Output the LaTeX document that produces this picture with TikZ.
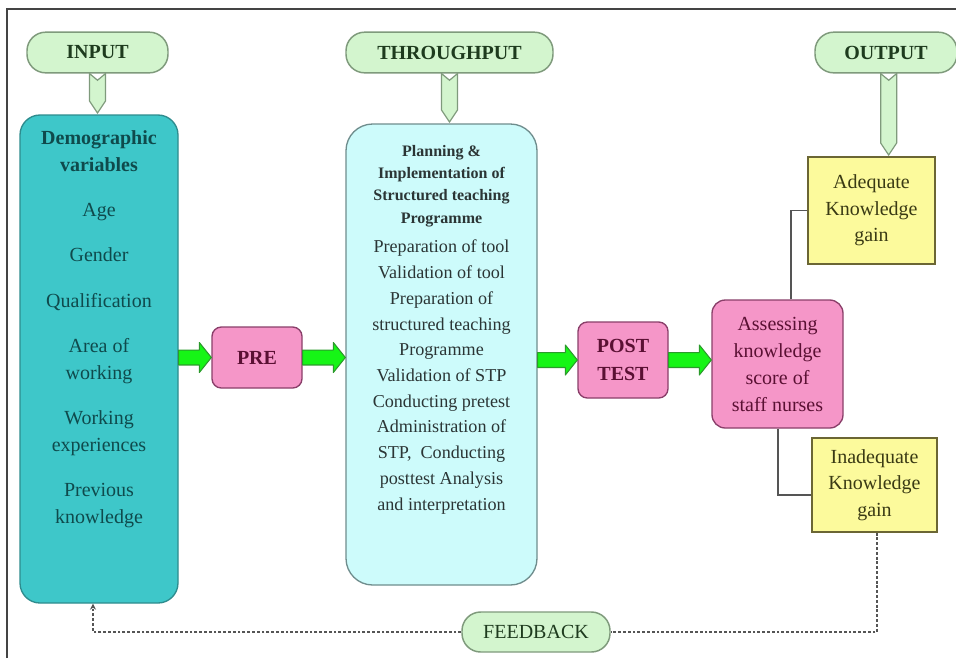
\documentclass[tikz,border=0pt]{standalone}
\usepackage{fontspec}
\setmainfont{Liberation Serif}
\usetikzlibrary{calc,arrows.meta}
\definecolor{pillfill}{HTML}{D3F5CE}
\definecolor{pilldraw}{HTML}{7F9A7C}
\definecolor{pilltext}{HTML}{1E3B1E}
\definecolor{demofill}{HTML}{3EC7C9}
\definecolor{demodraw}{HTML}{2E8C8E}
\definecolor{demotext}{HTML}{0F4A4C}
\definecolor{planfill}{HTML}{CDFBFB}
\definecolor{plandraw}{HTML}{6F8D8D}
\definecolor{plantext}{HTML}{2B3535}
\definecolor{pinkfill}{HTML}{F596C8}
\definecolor{pinkdraw}{HTML}{8A3F6A}
\definecolor{pinktext}{HTML}{5A1033}
\definecolor{yelfill}{HTML}{FCFA9C}
\definecolor{yeldraw}{HTML}{6B6634}
\definecolor{yeltext}{HTML}{3A3A14}
\definecolor{arrowfill}{HTML}{16F516}
\definecolor{arrowdraw}{HTML}{2C9A2C}
\definecolor{framecol}{HTML}{444444}
\definecolor{linecol}{HTML}{555555}
\newcommand\blockarrow[2]{%
  \path[barrow] let \p1=(#1), \p2=(#2) in
    (\x1,\y2+5.6pt) -- (\x2-9pt,\y2+5.6pt) -- (\x2-9pt,\y2+11.25pt) -- (\x2,\y2)
    -- (\x2-9pt,\y2-11.25pt) -- (\x2-9pt,\y2-5.6pt) -- (\x1,\y2-5.6pt) -- cycle;}
\newcommand\pillarrow[2]{%
  \path[darrow] let \p1=(#1), \p2=(#2) in
    (\x1-6pt,\y1) -- (\x1,\y1-5pt) -- (\x1+6pt,\y1) -- (\x1+6pt,\y2+10pt)
    -- (\x1,\y2+1pt) -- (\x1-6pt,\y2+10pt) -- cycle;}
\begin{document}
\begin{tikzpicture}[x=0.75pt,y=-0.75pt,
  pill/.style={draw=pilldraw,fill=pillfill,line width=1.1pt,rounded corners=14pt,
    minimum height=30.5pt,inner sep=0pt,text=pilltext,font=\fontsize{15}{18}\selectfont\bfseries},
  demobox/.style={draw=demodraw,fill=demofill,line width=1pt,rounded corners=15pt,inner sep=0pt},
  planbox/.style={draw=plandraw,fill=planfill,line width=1pt,rounded corners=20pt,inner sep=0pt},
  pinkbox/.style={draw=pinkdraw,fill=pinkfill,line width=1pt,rounded corners=7pt,inner sep=0pt,
    align=center,text=pinktext},
  yelbox/.style={draw=yeldraw,fill=yelfill,line width=1pt,inner sep=0pt,align=center,text=yeltext,
    font=\fontsize{15}{20}\selectfont},
  demotxt/.style={align=center,inner sep=0pt,text=demotext,font=\fontsize{15}{20}\selectfont},
  planhead/.style={align=center,inner sep=0pt,text=plantext,font=\fontsize{12}{16.8}\selectfont\bfseries},
  planlist/.style={align=center,inner sep=0pt,text=plantext,font=\fontsize{13.6}{19.3}\selectfont},
  barrow/.style={fill=arrowfill,draw=arrowdraw,line width=0.8pt,line join=round},
  darrow/.style={fill=pillfill,draw=pilldraw,line width=0.9pt,line join=miter},
  link/.style={draw=linecol,line width=1pt},
  fbline/.style={draw=linecol,line width=1.1pt,dash pattern=on 2.2pt off 1.4pt}
]
\useasboundingbox (0,0) rectangle (956,658);
\fill[white] (0,0) rectangle (956,658);
\draw[framecol,line width=1pt] (7,658) -- (7,9) -- (956,9);

% pills
\node[pill,minimum width=105.75pt] (input) at (97.5,52.5) {INPUT};
\node[pill,minimum width=155.25pt] (through) at (449.5,52.5) {THROUGHPUT};
\node[pill,minimum width=106.5pt] (output) at (886,52.5) {OUTPUT};
\node[pill,minimum width=111pt,minimum height=30pt,font=\fontsize{15}{18}\selectfont] (fb) at (536,632) {FEEDBACK};

% main boxes
\node[demobox,minimum width=118.5pt,minimum height=366pt] (demo) at (99,359) {};
\node[demotxt] (demotext) at (99,329)
  {{\bfseries Demographic}\\{\bfseries variables}\\[14pt]Age\\[14pt]Gender\\[14pt]Qualification\\[14pt]Area of\\working\\[14pt]Working\\experiences\\[14pt]Previous\\knowledge};

\node[planbox,minimum width=143.25pt,minimum height=345.75pt] (plan) at (441.5,354.5) {};
\node[planhead] (planh) at (441.5,186) {Planning \&\\Implementation of\\Structured teaching\\Programme};
\node[planlist] (planl) at (441.5,377)
  {Preparation of tool\\Validation of tool\\Preparation of\\structured teaching\\Programme\\Validation of STP\\Conducting pretest\\Administration of\\STP,\ \ Conducting\\posttest Analysis\\and interpretation};

\node[pinkbox,minimum width=67.5pt,minimum height=45.75pt,font=\fontsize{15}{21}\selectfont\bfseries] (pre) at (257,357.5) {PRE};
\node[pinkbox,minimum width=67.5pt,minimum height=57pt,font=\fontsize{15}{21}\selectfont\bfseries] (post) at (623,360) {POST\\TEST};
\node[pinkbox,rounded corners=10pt,minimum width=98.25pt,minimum height=96pt,font=\fontsize{15}{20.25}\selectfont] (assess) at (777.5,364) {Assessing\\knowledge\\score of\\staff nurses};

\node[yelbox,minimum width=95.25pt,minimum height=80.25pt] (adeq) at (871.5,210.5) {Adequate\\Knowledge\\gain};
\node[yelbox,minimum width=93.75pt,minimum height=70.5pt] (inad) at (874.5,485) {Inadequate\\Knowledge\\gain};

% pill arrows
\pillarrow{input.south}{demo.north}
\pillarrow{through.south}{plan.north}
\pillarrow{[xshift=2pt]output.south}{adeq.north}

% green block arrows
\blockarrow{demo.east |- pre.west}{pre.west}
\blockarrow{pre.east}{plan.west |- pre.east}
\blockarrow{plan.east |- post.west}{post.west}
\blockarrow{post.east}{assess.west |- post.east}

% connectors
\coordinate (atop) at ([xshift=10pt]assess.north);
\coordinate (abot) at ([xshift=0.4pt]assess.south);
\draw[link] (atop) |- (adeq.west);
\draw[link] (abot) |- ([yshift=-7.5pt]inad.west);

% feedback
\draw[fbline] ([xshift=1.8pt]inad.south) |- (fb.east);
\draw[fbline,-{Stealth[length=4.5pt,width=4.5pt]}] (fb.west) -| ([xshift=-4.5pt]demo.south);
\end{tikzpicture}
\end{document}
